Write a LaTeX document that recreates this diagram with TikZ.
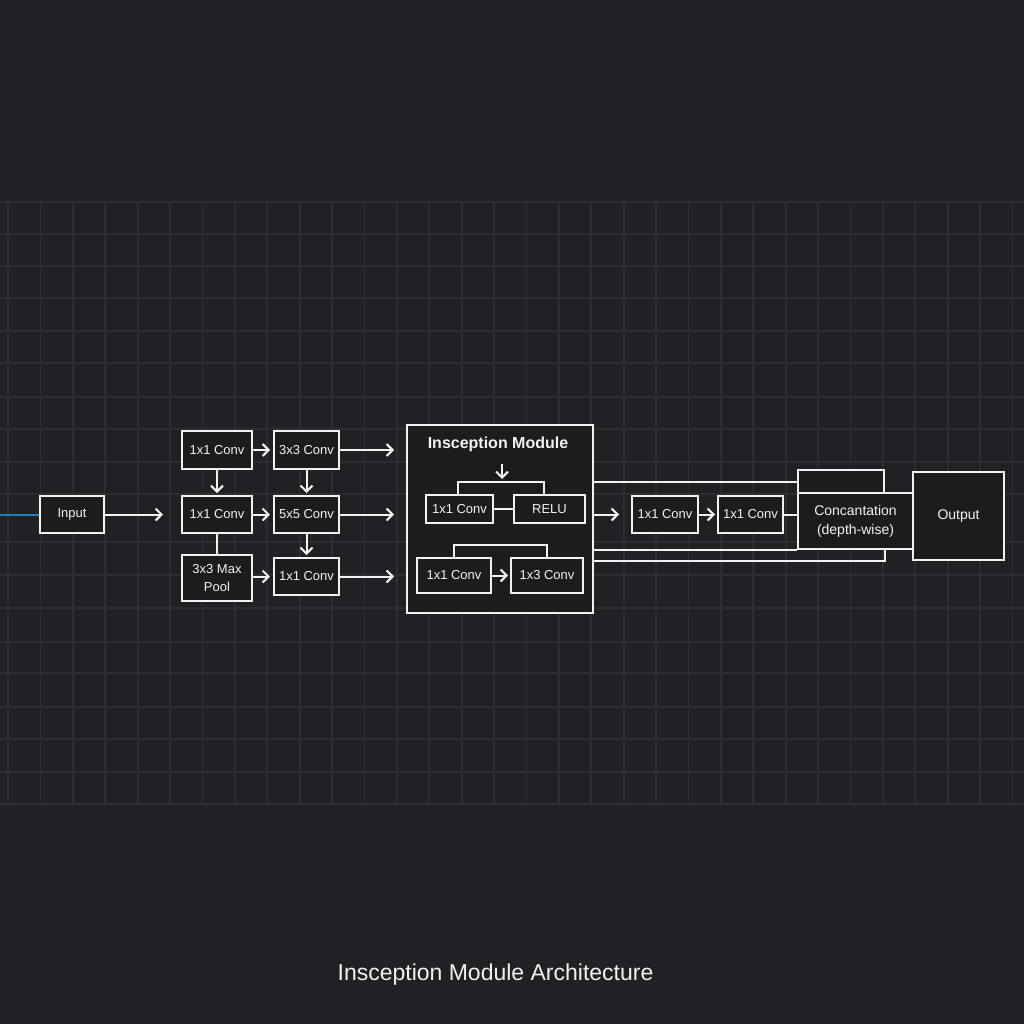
\documentclass[tikz,border=0pt]{standalone}
\usepackage{fontspec}
\setmainfont{Liberation Sans}
\usetikzlibrary{arrows.meta}
\definecolor{bg}{HTML}{202124}
\definecolor{boxbg}{HTML}{1C1C1E}
\definecolor{gridc}{HTML}{2D2E32}
\definecolor{fg}{HTML}{F2F2F2}
\definecolor{inblue}{HTML}{1C7FC4}
\def\convnode{\node[draw=fg,line width=2pt,fill=boxbg,text=fg,inner sep=0pt,align=center,font=\fontsize{13}{15}\selectfont]}
\tikzset{arr/.style={draw=fg,line width=2pt,-{Straight Barb[length=6pt,width=12pt]}},
  wire/.style={draw=fg,line width=2pt},
  gridline/.style={draw=gridc,line width=1.8pt}}

\begin{document}
\begin{tikzpicture}[x=1pt,y=-1pt]
\fill[bg] (0,0) rectangle (1024,1024);
\useasboundingbox (0,0) rectangle (1024,1024);
\foreach \x in {0,...,31}
  \draw[gridline] (8+32.4*\x,202) -- (8+32.4*\x,804);
\foreach \y in {202,234,266,298,331,363,397,429,462,494,542,575,608,642,673,707,739,772,804}
  \draw[gridline] (0,\y) -- (1024,\y);
\convnode[minimum width=64pt,minimum height=37pt] (input) at (72,514.5) {Input};
\convnode[minimum width=70pt,minimum height=38pt] (c1) at (217,450) {1x1 Conv};
\convnode[minimum width=70pt,minimum height=37pt] (c2) at (217,514.5) {1x1 Conv};
\convnode[minimum width=70pt,minimum height=46pt,font=\fontsize{13}{18}\selectfont] (pool) at (217,578) {3x3 Max\\Pool};
\convnode[minimum width=65pt,minimum height=38pt] (c3) at (306.5,450) {3x3 Conv};
\convnode[minimum width=65pt,minimum height=37pt] (c5) at (306.5,514.5) {5x5 Conv};
\convnode[minimum width=65pt,minimum height=37pt] (c4) at (306.5,576.5) {1x1 Conv};
\convnode[minimum width=186pt,minimum height=188pt] (module) at (500,519) {};
\node[text=fg,font=\fontsize{16}{18}\selectfont\bfseries] (mtitle) at (498,444) {Insception Module};
\convnode[minimum width=67pt,minimum height=28pt] (m1) at (459.5,509) {1x1 Conv};
\convnode[minimum width=71pt,minimum height=28pt] (relu) at (549.5,509) {RELU};
\convnode[minimum width=74pt,minimum height=35pt] (m2) at (454,575.5) {1x1 Conv};
\convnode[minimum width=72pt,minimum height=35pt] (m3) at (547,575.5) {1x3 Conv};
\convnode[minimum width=66pt,minimum height=37pt] (r1) at (665,514.5) {1x1 Conv};
\convnode[minimum width=65pt,minimum height=37pt] (r2) at (750.5,514.5) {1x1 Conv};
\convnode[minimum width=86pt,minimum height=23pt] (tab) at (841,481.5) {};
\convnode[minimum width=115pt,minimum height=56pt,font=\fontsize{14}{19}\selectfont] (concat) at (855.5,521) {Concantation\\(depth-wise)};
\convnode[minimum width=91pt,minimum height=88pt,font=\fontsize{14}{16}\selectfont] (output) at (958.5,516) {Output};
\node[text=fg,font=\fontsize{23}{26}\selectfont] (caption) at (495.5,975) {Insception Module Architecture};
\coordinate (inedge) at (0,514.5);
\coordinate (mtop) at (502,464);
\coordinate (mhead) at (502,479);
\draw[draw=inblue,line width=2pt] (inedge) -- (input);
\draw[arr,shorten >=18pt] (input) -- (c2);
\draw[arr,shorten >=3pt] (c1) -- (c3);
\draw[arr,shorten >=3pt] (c2) -- (c5);
\draw[arr,shorten >=3pt] (pool.east |- c4) -- (c4);
\draw[arr,shorten >=2pt] (c1) -- (c2);
\draw[arr,shorten >=2pt] (c3) -- (c5);
\draw[arr,shorten >=2pt] (c5) -- (c4);
\draw[wire] (c2) -- (pool);
\draw[arr,shorten >=12pt] (c3) -- (c3 -| module.west);
\draw[arr,shorten >=12pt] (c5) -- (c5 -| module.west);
\draw[arr,shorten >=12pt] (c4) -- (c4 -| module.west);
\draw[arr] (mtop) -- (mhead);
\draw[wire] ([xshift=-1.5pt]m1.north) -- ++(0,-12) -| ([xshift=-5.5pt]relu.north);
\draw[wire] (m1) -- (relu);
\draw[wire] (m2.north) -- ++(0,-12) -| (m3.north);
\draw[arr,shorten >=2pt] (m2) -- (m3);
\draw[wire] (module.east |- tab.west) -- (tab.west);
\draw[wire] (module.east |- concat.south west) -- (concat.south west);
\draw[wire] (module.east |- output.south) -| (tab.east |- concat.south);
\draw[arr,shorten >=12pt] (module.east |- r1) -- (r1);
\draw[arr,shorten >=2pt] (r1) -- (r2);
\draw[wire] (r2) -- (concat.west |- r2);
\end{tikzpicture}
\end{document}
